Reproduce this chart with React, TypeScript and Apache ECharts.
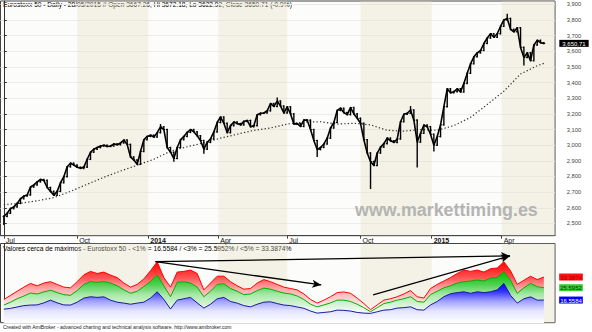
import React, { useEffect, useRef } from "react";
import * as echarts from "echarts";

// ---- axis / calendar (trading-day index, 0 = 1 Jul 2013) ----
const quarterLabels = ["Jul", "Oct", "2014", "Apr", "Jul", "Oct", "2015", "Apr"];
const quarterStartDays = [0, 66, 130, 193, 255, 321, 385, 448];
const shadedQuarterDays = [[66, 130], [193, 255], [321, 385], [448, 496]];
const priceTicks = [2500, 2600, 2700, 2800, 2900, 3000, 3100, 3200, 3300, 3400, 3500, 3600, 3700, 3800, 3900];

// ---- Eurostoxx 50 closes, one bar every 3 trading days ----
const barStepDays = 3;
const closes = [
  2545, 2565, 2595, 2606, 2628, 2658, 2675, 2682, 2733, 2746,
  2766, 2781, 2775, 2730, 2705, 2680, 2705, 2760, 2799, 2862,
  2885, 2873, 2859, 2852, 2860, 2910, 2955, 2975, 2985, 2995,
  3000, 2992, 2995, 3008, 3003, 3015, 3033, 3005, 2925, 2905,
  2878, 2960, 3035, 3056, 3064, 3052, 3080, 3117, 3100, 2985,
  2955, 2915, 2985, 3035, 3056, 3082, 3100, 3085, 3060, 3030,
  2975, 3018, 3040, 3085, 3145, 3180, 3140, 3080, 3125, 3148,
  3138, 3130, 3152, 3158, 3118, 3125, 3195, 3204, 3206, 3220,
  3266, 3248, 3282, 3250, 3206, 3245, 3200, 3135, 3138, 3120,
  3160, 3160, 3100, 3030, 2972, 2985, 3008, 3045, 3110, 3145,
  3222, 3236, 3208, 3195, 3240, 3200, 3172, 3140, 3035, 2950,
  2895, 2870, 2950, 2988, 3010, 3045, 3028, 3018, 3040, 3150,
  3198, 3204, 3225, 3160, 3020, 3076, 3128, 3118, 3070, 3000,
  3055, 3130, 3246, 3360, 3335, 3342, 3360, 3340, 3395, 3460,
  3520, 3565, 3590, 3605, 3650, 3685, 3712, 3690, 3712, 3760,
  3800, 3810, 3740, 3725, 3750, 3625, 3560, 3590, 3540, 3640,
  3670, 3655, 3650.71,
];
// [bar index, value] wicks
const spikeLows = [[0, 2495], [51, 2900], [60, 2950], [94, 2930], [110, 2725], [124, 2862], [129, 2965], [156, 3515]];
const spikeHighs = [[47, 3130], [82, 3300], [122, 3245], [151, 3835]];

// ---- moving average (dotted) ----
const maDays = [0, 15, 30, 45, 60, 75, 90, 105, 120, 135, 150, 165, 180, 195, 210, 225, 240, 255, 270, 285, 300, 315, 330, 345, 360, 375, 390, 405, 420, 435, 450, 465, 480, 486];
const maValues = [
  2620, 2629, 2645, 2665, 2705, 2750, 2795, 2835, 2872, 2910,
  2962, 2990, 3015, 3045, 3070, 3095, 3110, 3135, 3148, 3150,
  3135, 3140, 3130, 3095, 3090, 3100, 3095, 3125, 3178, 3260,
  3345, 3455, 3508, 3523,
];

// ---- lower pane: values near highs (one value every 6 trading days) ----
const pctStepDays = 6;
const near5 = [
  17, 20, 23, 26, 28.7, 27, 29, 30, 28, 26,
  25.5, 30, 35, 37.5, 36, 37, 34.8, 33, 29, 26,
  28, 32, 38, 44.5, 33, 26, 37, 37.5, 38.5, 36,
  24, 29, 34, 34, 30, 27, 24.5, 25, 29, 31.5,
  30, 28, 26, 25, 24, 21, 17, 14.3, 16.5, 19,
  22, 22.5, 21.5, 18, 14, 9.5, 13, 16.5, 17.5, 19,
  21, 23.5, 19, 18, 25, 28, 30.5, 33, 36, 38.5,
  37.5, 38.5, 37, 39.5, 40, 44.5, 38, 28, 31, 34,
  31.5, 33.3874,
];
const near3 = [
  12.9, 15, 17.5, 19.5, 21.7, 21, 22.5, 23.8, 22, 20.5,
  20, 23.5, 28, 30, 29.5, 30, 29, 27, 24, 21.5,
  23, 26.5, 30, 34.8, 27, 19, 29.5, 29.9, 29, 26,
  19, 23, 28, 28.5, 25, 23, 20.5, 21, 23.5, 25.3,
  24.5, 23, 21.7, 21, 19.5, 17, 13.5, 11.6, 13, 14.5,
  16.5, 16.5, 15.5, 13.5, 11, 8, 11, 14, 15, 16.5,
  17.5, 19, 15.5, 15, 20.5, 23, 25.5, 27, 29, 30,
  30.5, 31.2, 30.5, 32.5, 33, 37.2, 31, 21.5, 25.5, 28.7,
  26.3, 25.5952,
];
const near1 = [
  9.9, 10.5, 11.5, 12.5, 12.9, 13, 14.5, 16.5, 14.5, 13,
  12.9, 15, 18, 19, 18.5, 18.9, 16.5, 15, 14.3, 13.5,
  14.3, 15, 18, 22.6, 17, 10, 16.5, 17.5, 18.5, 14.5,
  10.7, 13.5, 17.5, 18.5, 15.5, 14.3, 12.5, 11.6, 13.5, 15,
  15.3, 14, 12.9, 12.5, 11.5, 10.5, 8.5, 7, 7.5, 8,
  9.2, 9, 8.5, 7.5, 7, 6.8, 8, 9.2, 9.5, 10.7,
  11, 11.6, 9.5, 9.2, 13, 15.5, 19, 21.2, 22, 22.6,
  21.5, 22.6, 22, 22.6, 24, 28.7, 20, 14.3, 17.5, 18.9,
  16.5, 16.5584,
];
// [day1, value1, day2, value2] hand-drawn trend arrows in the lower pane
const trendArrows = [
  [136.4, 44.6, 285.6, 27.6],
  [136.4, 44.6, 455.5, 48.8],
  [332.3, 20.3, 455.5, 48.8],
];

const FONT = "Liberation Sans, Arial, sans-serif";

export default function App() {
  const ref = useRef<HTMLDivElement>(null);

  useEffect(() => {
    if (!ref.current) return;
    const chart = echarts.init(ref.current, undefined, { renderer: "svg" });

    const bars = closes.map((c, k) => {
      const o = k > 0 ? closes[k - 1] : c;
      let lo = Math.min(o, c);
      let hi = Math.max(o, c);
      spikeLows.forEach(([i, v]) => { if (i === k) lo = Math.min(lo, v); });
      spikeHighs.forEach(([i, v]) => { if (i === k) hi = Math.max(hi, v); });
      return [k * barStepDays, o, c, lo, hi];
    });

    const lastClose = closes[closes.length - 1];
    const last5 = near5[near5.length - 1];
    const last3 = near3[near3.length - 1];
    const last1 = near1[near1.length - 1];

    const bands = shadedQuarterDays.map(([a, b]) => [{ xAxis: a }, { xAxis: b }]);
    const bandStyle = { color: "rgba(226,222,190,0.32)" };

    // gradient over each area's own box (from its peak down to zero)
    const pctArea = (data: number[], line: string, stops: [number, string][]) => ({
      type: "line",
      xAxisIndex: 1,
      yAxisIndex: 1,
      data: data.map((v, j) => [j * pctStepDays, v]),
      showSymbol: false,
      smooth: false,
      z: 3,
      lineStyle: { color: line, width: 1 },
      areaStyle: {
        opacity: 1,
        color: new echarts.graphic.LinearGradient(0, 0, 0, 1,
          stops.map(([offset, color]) => ({ offset, color }))),
      },
      silent: true,
    });

    const option: any = {
      animation: false,
      backgroundColor: "#ffffff",
      textStyle: { fontFamily: FONT },
      grid: [
        { left: 0.5, top: 1, width: 554.5, height: 234.7, show: true, backgroundColor: "#fcfcfa", borderColor: "#444", borderWidth: 1, containLabel: false, outerBoundsMode: "none" },
        { left: 0.5, top: 243.5, width: 554.5, height: 79.2, show: true, backgroundColor: "#fcfcfa", borderColor: "#444", borderWidth: 1, containLabel: false, outerBoundsMode: "none" },
      ],
      xAxis: [
        {
          type: "value", gridIndex: 0, min: -3, max: 496, position: "bottom",
          axisLine: { show: true, lineStyle: { color: "#444", width: 1 } },
          axisTick: { show: true, customValues: quarterStartDays, length: 3, lineStyle: { color: "#444" } },
          axisLabel: {
            customValues: quarterStartDays,
            margin: 1,
            align: "left",
            padding: [0, 0, 0, 2],
            fontSize: 7,
            color: "#111",
            fontFamily: FONT,
            formatter: (v: number) => {
              const i = quarterStartDays.indexOf(Math.round(v));
              if (i < 0) return "";
              const t = quarterLabels[i];
              return /^\d+$/.test(t) ? `{b|${t}}` : t;
            },
            rich: { b: { fontWeight: "bold", fontSize: 7, color: "#111", fontFamily: FONT } },
          },
          splitLine: { show: false },
        },
        { type: "value", gridIndex: 1, min: -3, max: 496, show: false, splitLine: { show: false } },
      ],
      yAxis: [
        {
          type: "value", gridIndex: 0, position: "right", min: 2421.7, max: 3921.4, splitNumber: 15,
          axisLine: { show: true, lineStyle: { color: "#333" } },
          axisTick: { show: true, customValues: priceTicks, length: 3, lineStyle: { color: "#333" } },
          splitLine: { show: true, lineStyle: { color: "#ececea", width: 1 } },
          axisLabel: {
            customValues: [...priceTicks, lastClose],
            margin: 19,
            align: "center",
            fontSize: 5.8,
            color: "#444",
            fontFamily: FONT,
            formatter: (v: number) =>
              v === lastClose
                ? `{p|${v.toLocaleString("en-US", { minimumFractionDigits: 2 })}}`
                : v.toLocaleString("en-US"),
            rich: { p: { backgroundColor: "#000", color: "#fff", fontSize: 6, padding: [1, 3, 0, 3], fontFamily: FONT } },
          },
        },
        {
          type: "value", gridIndex: 1, position: "right", min: 0, max: 57.9,
          axisLine: { show: true, lineStyle: { color: "#333" } },
          axisTick: { show: false },
          splitLine: { show: false },
          axisLabel: {
            customValues: [last1, last3, last5],
            margin: 16,
            align: "center",
            fontSize: 6,
            fontFamily: FONT,
            formatter: (v: number) => (v === last5 ? `{r|${v}}` : v === last3 ? `{g|${v}}` : `{b|${v}}`),
            rich: {
              r: { backgroundColor: "#ff1010", color: "#b00000", fontSize: 6, padding: [1, 1, 0, 1], fontFamily: FONT },
              g: { backgroundColor: "#33cc33", color: "#063a06", fontSize: 6, padding: [1, 1, 0, 1], fontFamily: FONT },
              b: { backgroundColor: "#0000ff", color: "#ffffff", fontSize: 6, padding: [1, 1, 0, 1], fontFamily: FONT },
            },
          },
        },
      ],
      series: [
        { type: "line", xAxisIndex: 0, yAxisIndex: 0, data: [], z: 1, silent: true, markArea: { silent: true, itemStyle: bandStyle, data: bands } },
        { type: "line", xAxisIndex: 1, yAxisIndex: 1, data: [], z: 1, silent: true, markArea: { silent: true, itemStyle: bandStyle, data: bands } },
        {
          type: "line", xAxisIndex: 0, yAxisIndex: 0, z: 3, silent: true,
          data: maDays.map((d, i) => [d, maValues[i]]),
          showSymbol: false,
          lineStyle: { color: "#333", width: 1.2, type: [1.3, 2.2] },
        },
        {
          type: "line", xAxisIndex: 0, yAxisIndex: 0, z: 4, silent: true,
          data: closes.map((c, k) => [k * barStepDays, c]),
          showSymbol: false,
          lineStyle: { color: "#000", width: 1.6 },
        },
        {
          type: "custom", xAxisIndex: 0, yAxisIndex: 0, z: 5, silent: true,
          data: bars,
          encode: { x: 0, y: [1, 2, 3, 4] },
          renderItem: (_p: any, api: any) => {
            const d = api.value(0);
            const o = api.coord([d, api.value(1)]);
            const c = api.coord([d, api.value(2)]);
            const l = api.coord([d, api.value(3)]);
            const h = api.coord([d, api.value(4)]);
            const st = { stroke: "#000", lineWidth: 1.4 };
            return {
              type: "group",
              children: [
                { type: "line", shape: { x1: l[0], y1: l[1] + 0.8, x2: h[0], y2: h[1] - 0.8 }, style: st },
                { type: "line", shape: { x1: o[0] - 1.3, y1: o[1], x2: o[0], y2: o[1] }, style: { stroke: "#000", lineWidth: 1 } },
                { type: "line", shape: { x1: c[0], y1: c[1], x2: c[0] + 1.3, y2: c[1] }, style: { stroke: "#000", lineWidth: 1 } },
              ],
            };
          },
        },
        pctArea(near5, "#ff0000", [[0, "#ff0000"], [0.25, "#ff5050"], [0.45, "#ffaaaa"], [0.75, "#fff0f0"], [1, "#ffffff"]]),
        pctArea(near3, "#00b000", [[0, "#00c000"], [0.25, "#50d050"], [0.45, "#a8e8a8"], [0.75, "#eefaee"], [1, "#ffffff"]]),
        pctArea(near1, "#1a1aa0", [[0, "#0000ff"], [0.2, "#3030ff"], [0.45, "#a0a0ff"], [0.7, "#e4e4ff"], [1, "#ffffff"]]),
        {
          type: "line", xAxisIndex: 1, yAxisIndex: 1, data: [], z: 6, silent: true,
          markLine: {
            silent: true,
            symbol: ["none", "arrow"],
            symbolSize: [6, 9],
            label: { show: false },
            lineStyle: { color: "#000", width: 1.3, type: "solid" },
            emphasis: { disabled: true },
            data: trendArrows.map(([d1, v1, d2, v2]) => [{ coord: [d1, v1] }, { coord: [d2, v2] }]),
          },
        },
      ],
      graphic: [
        {
          type: "text", x: 3, y: 1.2, silent: true,
          style: {
            text: "Eurostoxx 50 - Daily - 28/05/2015 // Open 3667.26, Hi 3672.18, Lo 3622.92, Close 3650.71 (-0.9%)",
            fontSize: 6.6, fontFamily: FONT, fill: "#000", textVerticalAlign: "top",
          },
        },
        {
          type: "text", x: 3, y: 245.3, silent: true,
          style: {
            text: "Valores cerca de máximos - Eurostoxx 50 - <1% = 16.5584 / <3% = 25.5952% / <5% = 33.3874%",
            fontSize: 6.7, fontFamily: FONT, fill: "#000", textVerticalAlign: "top",
          },
        },
        {
          type: "text", x: 3, y: 324.3, silent: true,
          style: {
            text: "Created with AmiBroker - advanced charting and technical analysis software. http://www.amibroker.com",
            fontSize: 5, fontFamily: FONT, fill: "#222", textVerticalAlign: "top",
          },
        },
        {
          type: "text", x: 355, y: 200, scaleX: 0.94, silent: true, z: 10,
          style: {
            text: "www.markettiming.es",
            fontSize: 19, fontWeight: "bold", fontFamily: FONT, fill: "#b4b4b4", textVerticalAlign: "top",
          },
        },
      ],
    };

    chart.setOption(option);
    return () => chart.dispose();
  }, []);

  return (
    <div
      ref={ref}
      style={{ position: "fixed", left: 0, top: 0, width: 592, height: 332, background: "#fff" }}
    />
  );
}
